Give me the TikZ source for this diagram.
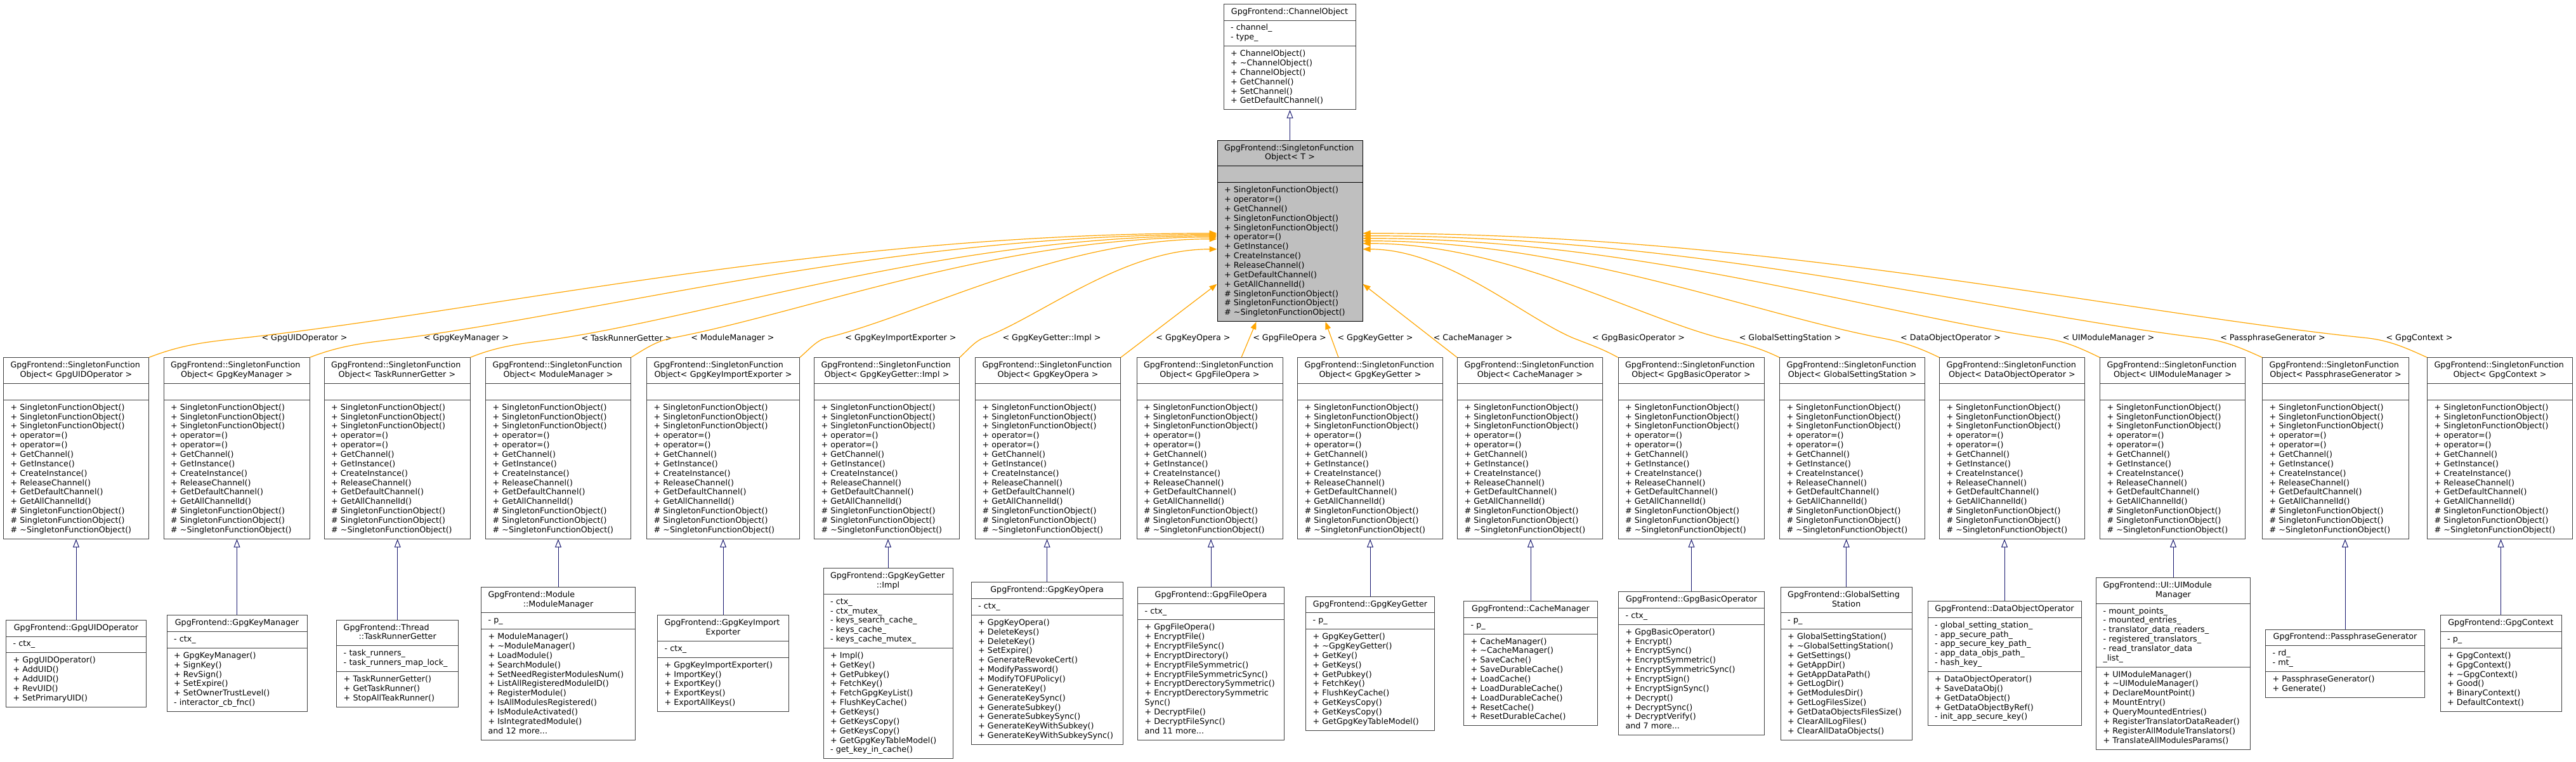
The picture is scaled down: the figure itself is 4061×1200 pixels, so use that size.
\documentclass[tikz,border=0pt]{standalone}
\usepackage{fontspec}
\setmainfont{DejaVu Sans}
\usepackage{tikz}
\usetikzlibrary{shapes.multipart}
\usetikzlibrary{arrows.meta}
\definecolor{navyline}{HTML}{191970}
\definecolor{orangeline}{HTML}{FFA500}
\setlength{\parindent}{0pt}
\setlength{\parskip}{0pt}
\newcommand\umlfont{\fontsize{12.7}{14.85}\selectfont}
\newcommand\umlpart[1]{\umlfont\raggedright\strut#1\strut}
\newcommand\ctrline[1]{\hspace*{\fill}#1\hspace*{\fill}\null}
\newcommand\sfolist{+ SingletonFunctionObject()\\+ SingletonFunctionObject()\\+ SingletonFunctionObject()\\+ operator=()\\+ operator=()\\+ GetChannel()\\+ GetInstance()\\+ CreateInstance()\\+ ReleaseChannel()\\+ GetDefaultChannel()\\+ GetAllChannelId()\\\# SingletonFunctionObject()\\\# SingletonFunctionObject()\\\# \textasciitilde SingletonFunctionObject()}
\begin{document}
\begin{tikzpicture}[x=1pt, y=1pt,
    umlbox/.style={rectangle split, rectangle split parts=3, draw=black!75, line width=1pt, fill=white, inner xsep=11pt, inner ysep=5pt, align=left, font=\umlfont},
    mainbox/.style={umlbox, draw=black, fill=black!25},
    lbl/.style={font=\umlfont, inner sep=0pt},
    inh/.style={draw=navyline, line width=1pt, -{Triangle[open, length=13pt, width=10pt]}},
    inst/.style={draw=orangeline, line width=1.2pt, -{Triangle[length=12pt, width=9pt]}}]
    \useasboundingbox (0,0) rectangle (4061,-1200);

    \node[umlbox, text width=186pt, anchor=north] (c) at (2033,-5.7) {\umlpart{\ctrline{GpgFrontend::ChannelObject}}
        \nodepart{two}\umlpart{- channel\_\\- type\_}
        \nodepart{three}\umlpart{+ ChannelObject()\\+ \textasciitilde ChannelObject()\\+ ChannelObject()\\+ GetChannel()\\+ SetChannel()\\+ GetDefaultChannel()}};
    \node[mainbox, text width=207pt, anchor=north] (s) at (2033.5,-220.7) {\umlpart{GpgFrontend::SingletonFunction\\\ctrline{Object< T >}}
        \nodepart{two}\umlpart{}
        \nodepart{three}\umlpart{+ SingletonFunctionObject()\\+ operator=()\\+ GetChannel()\\+ SingletonFunctionObject()\\+ SingletonFunctionObject()\\+ operator=()\\+ GetInstance()\\+ CreateInstance()\\+ ReleaseChannel()\\+ GetDefaultChannel()\\+ GetAllChannelId()\\\# SingletonFunctionObject()\\\# SingletonFunctionObject()\\\# \textasciitilde SingletonFunctionObject()}};
    \draw[inh] (s.north) -- (s.north |- c.south);

    \foreach \n/\x/\w/\lx/\t in {1/120/207/480/GpgUIDOperator, 2/373/208/735/GpgKeyManager,
        3/626/208/988/TaskRunnerGetter, 4/880/207/1155/ModuleManager,
        5/1140/219/1420/GpgKeyImportExporter, 6/1398/207/1658/GpgKeyGetter::Impl,
        7/1652/207/1881/GpgKeyOpera, 8/1907/208/2033/GpgFileOpera,
        9/2160/207/2168/GpgKeyGetter, 10/2412/207/2322/CacheManager,
        11/2666/208/2583/GpgBasicOperator, 12/2920/207/2822/GlobalSettingStation,
        13/3172/207/3075/DataObjectOperator, 14/3425/207/3324/UIModuleManager,
        15/3682/209/3583/PassphraseGenerator, 16/3941/207/3814/GpgContext} {
        \node[umlbox, text width=\w pt] (m\n) at (\x,-706.5) {\umlpart{GpgFrontend::SingletonFunction\\\ctrline{Object< \t{} >}}
            \nodepart{two}\umlpart{}
            \nodepart{three}\umlpart{\sfolist}};
        \node[lbl] (l\n) at (\lx,-532.7) {< \t{} >};
    }

    \node[umlbox, text width=199pt] (b1) at (120,-1045.7) {\umlpart{\ctrline{GpgFrontend::GpgUIDOperator}}
        \nodepart{two}\umlpart{- ctx\_}
        \nodepart{three}\umlpart{+ GpgUIDOperator()\\+ AddUID()\\+ AddUID()\\+ RevUID()\\+ SetPrimaryUID()}};
    \node[umlbox, text width=199pt] (b2) at (373.5,-1045.7) {\umlpart{\ctrline{GpgFrontend::GpgKeyManager}}
        \nodepart{two}\umlpart{- ctx\_}
        \nodepart{three}\umlpart{+ GpgKeyManager()\\+ SignKey()\\+ RevSign()\\+ SetExpire()\\+ SetOwnerTrustLevel()\\- interactor\_cb\_fnc()}};
    \node[umlbox, text width=170pt] (b3) at (626.7,-1045.7) {\umlpart{GpgFrontend::Thread\\\ctrline{::TaskRunnerGetter}}
        \nodepart{two}\umlpart{- task\_runners\_\\- task\_runners\_map\_lock\_}
        \nodepart{three}\umlpart{+ TaskRunnerGetter()\\+ GetTaskRunner()\\+ StopAllTeakRunner()}};
    \node[umlbox, text width=221pt] (b4) at (880,-1045.7) {\umlpart{GpgFrontend::Module\\\ctrline{::ModuleManager}}
        \nodepart{two}\umlpart{- p\_}
        \nodepart{three}\umlpart{+ ModuleManager()\\+ \textasciitilde ModuleManager()\\+ LoadModule()\\+ SearchModule()\\+ SetNeedRegisterModulesNum()\\+ ListAllRegisteredModuleID()\\+ RegisterModule()\\+ IsAllModulesRegistered()\\+ IsModuleActivated()\\+ IsIntegratedModule()\\and 12 more...}};
    \node[umlbox, text width=185pt] (b5) at (1140,-1045.7) {\umlpart{GpgFrontend::GpgKeyImport\\\ctrline{Exporter}}
        \nodepart{two}\umlpart{- ctx\_}
        \nodepart{three}\umlpart{+ GpgKeyImportExporter()\\+ ImportKey()\\+ ExportKey()\\+ ExportKeys()\\+ ExportAllKeys()}};
    \node[umlbox, text width=182pt] (b6) at (1400,-1045.7) {\umlpart{GpgFrontend::GpgKeyGetter\\\ctrline{::Impl}}
        \nodepart{two}\umlpart{- ctx\_\\- ctx\_mutex\_\\- keys\_search\_cache\_\\- keys\_cache\_\\- keys\_cache\_mutex\_}
        \nodepart{three}\umlpart{+ Impl()\\+ GetKey()\\+ GetPubkey()\\+ FetchKey()\\+ FetchGpgKeyList()\\+ FlushKeyCache()\\+ GetKeys()\\+ GetKeysCopy()\\+ GetKeysCopy()\\+ GetGpgKeyTableModel()\\- get\_key\_in\_cache()}};
    \node[umlbox, text width=217pt] (b7) at (1650.6,-1045.7) {\umlpart{\ctrline{GpgFrontend::GpgKeyOpera}}
        \nodepart{two}\umlpart{- ctx\_}
        \nodepart{three}\umlpart{+ GpgKeyOpera()\\+ DeleteKeys()\\+ DeleteKey()\\+ SetExpire()\\+ GenerateRevokeCert()\\+ ModifyPassword()\\+ ModifyTOFUPolicy()\\+ GenerateKey()\\+ GenerateKeySync()\\+ GenerateSubkey()\\+ GenerateSubkeySync()\\+ GenerateKeyWithSubkey()\\+ GenerateKeyWithSubkeySync()}};
    \node[umlbox, text width=209pt] (b8) at (1909,-1045.7) {\umlpart{\ctrline{GpgFrontend::GpgFileOpera}}
        \nodepart{two}\umlpart{- ctx\_}
        \nodepart{three}\umlpart{+ GpgFileOpera()\\+ EncryptFile()\\+ EncryptFileSync()\\+ EncryptDirectory()\\+ EncryptFileSymmetric()\\+ EncryptFileSymmetricSync()\\+ EncryptDerectorySymmetric()\\+ EncryptDerectorySymmetric\\Sync()\\+ DecryptFile()\\+ DecryptFileSync()\\and 11 more...}};
    \node[umlbox, text width=181pt] (b9) at (2160,-1045.7) {\umlpart{\ctrline{GpgFrontend::GpgKeyGetter}}
        \nodepart{two}\umlpart{- p\_}
        \nodepart{three}\umlpart{+ GpgKeyGetter()\\+ \textasciitilde GpgKeyGetter()\\+ GetKey()\\+ GetKeys()\\+ GetPubkey()\\+ FetchKey()\\+ FlushKeyCache()\\+ GetKeysCopy()\\+ GetKeysCopy()\\+ GetGpgKeyTableModel()}};
    \node[umlbox, text width=189pt] (b10) at (2413,-1045.7) {\umlpart{\ctrline{GpgFrontend::CacheManager}}
        \nodepart{two}\umlpart{- p\_}
        \nodepart{three}\umlpart{+ CacheManager()\\+ \textasciitilde CacheManager()\\+ SaveCache()\\+ SaveDurableCache()\\+ LoadCache()\\+ LoadDurableCache()\\+ LoadDurableCache()\\+ ResetCache()\\+ ResetDurableCache()}};
    \node[umlbox, text width=208pt] (b11) at (2666.5,-1045.7) {\umlpart{\ctrline{GpgFrontend::GpgBasicOperator}}
        \nodepart{two}\umlpart{- ctx\_}
        \nodepart{three}\umlpart{+ GpgBasicOperator()\\+ Encrypt()\\+ EncryptSync()\\+ EncryptSymmetric()\\+ EncryptSymmetricSync()\\+ EncryptSign()\\+ EncryptSignSync()\\+ Decrypt()\\+ DecryptSync()\\+ DecryptVerify()\\and 7 more...}};
    \node[umlbox, text width=185pt] (b12) at (2910.7,-1045.7) {\umlpart{GpgFrontend::GlobalSetting\\\ctrline{Station}}
        \nodepart{two}\umlpart{- p\_}
        \nodepart{three}\umlpart{+ GlobalSettingStation()\\+ \textasciitilde GlobalSettingStation()\\+ GetSettings()\\+ GetAppDir()\\+ GetAppDataPath()\\+ GetLogDir()\\+ GetModulesDir()\\+ GetLogFilesSize()\\+ GetDataObjectsFilesSize()\\+ ClearAllLogFiles()\\+ ClearAllDataObjects()}};
    \node[umlbox, text width=220pt] (b13) at (3160,-1045.7) {\umlpart{\ctrline{GpgFrontend::DataObjectOperator}}
        \nodepart{two}\umlpart{- global\_setting\_station\_\\- app\_secure\_path\_\\- app\_secure\_key\_path\_\\- app\_data\_objs\_path\_\\- hash\_key\_}
        \nodepart{three}\umlpart{+ DataObjectOperator()\\+ SaveDataObj()\\+ GetDataObject()\\+ GetDataObjectByRef()\\- init\_app\_secure\_key()}};
    \node[umlbox, text width=221pt] (b14) at (3426,-1045.7) {\umlpart{GpgFrontend::UI::UIModule\\\ctrline{Manager}}
        \nodepart{two}\umlpart{- mount\_points\_\\- mounted\_entries\_\\- translator\_data\_readers\_\\- registered\_translators\_\\- read\_translator\_data\\\_list\_}
        \nodepart{three}\umlpart{+ UIModuleManager()\\+ \textasciitilde UIModuleManager()\\+ DeclareMountPoint()\\+ MountEntry()\\+ QueryMountedEntries()\\+ RegisterTranslatorDataReader()\\+ RegisterAllModuleTranslators()\\+ TranslateAllModulesParams()}};
    \node[umlbox, text width=229pt] (b15) at (3697,-1045.7) {\umlpart{\ctrline{GpgFrontend::PassphraseGenerator}}
        \nodepart{two}\umlpart{- rd\_\\- mt\_}
        \nodepart{three}\umlpart{+ PassphraseGenerator()\\+ Generate()}};
    \node[umlbox, text width=169pt] (b16) at (3942.5,-1045.7) {\umlpart{\ctrline{GpgFrontend::GpgContext}}
        \nodepart{two}\umlpart{- p\_}
        \nodepart{three}\umlpart{+ GpgContext()\\+ GpgContext()\\+ \textasciitilde GpgContext()\\+ Good()\\+ BinaryContext()\\+ DefaultContext()}};

    \foreach \n in {1,...,16} {
        \draw[inh] (b\n.north) -- (b\n.north |- m\n.south);
    }

    \draw[inst] (m1.north east) .. controls +(54,21) and +(-54,-6) .. ([xshift=-30pt]l1.west) .. controls +(384,42) and +(-615,0) .. ([yshift=-147pt]s.north west);
    \draw[inst] (m2.north east) .. controls +(54,21) and +(-54,-7) .. ([xshift=-30pt]l2.west) .. controls +(320,42) and +(-513,0) .. ([yshift=-149pt]s.north west);
    \draw[inst] (m3.north east) .. controls +(52,21) and +(-52,-8) .. ([xshift=-30pt]l3.west) .. controls +(258,41) and +(-414,0) .. ([yshift=-151pt]s.north west);
    \draw[inst] (m4.north east) .. controls +(24,15) and +(-24,-5) .. ([xshift=-30pt]l4.west) .. controls +(215,41) and +(-345,0) .. ([yshift=-153pt]s.north west);
    \draw[inst] (m5.north east) .. controls +(15,13) and +(-15,-4) .. ([xshift=-30pt]l5.west) .. controls +(155,39) and +(-247,0) .. ([yshift=-156pt]s.north west);
    \draw[inst] (m6.north east) .. controls +(13,12) and +(-13,-5) .. ([xshift=-30pt]l6.west) .. controls +(92,35) and +(-148,0) .. ([yshift=-172pt]s.north west);
    \draw[inst] (m7.north east) -- ([yshift=-227pt]s.north west);
    \draw[inst] ([xshift=50pt]m8.north) -- ([xshift=-53pt]s.south);
    \draw[inst] ([xshift=-50pt]m9.north) -- ([xshift=56pt]s.south);
    \draw[inst] (m10.north west) -- ([yshift=-227pt]s.north east);
    \draw[inst] (m11.north west) .. controls +(-25,14) and +(25,-10) .. ([xshift=-30pt]l11.west) .. controls +(-80,34) and +(132,0) .. ([yshift=-172pt]s.north east);
    \draw[inst] (m12.north west) .. controls +(-33,16) and +(33,-8) .. ([xshift=-30pt]l12.west) .. controls +(-140,37) and +(225,0) .. ([yshift=-163pt]s.north east);
    \draw[inst] (m13.north west) .. controls +(-33,16) and +(33,-6) .. ([xshift=-30pt]l13.west) .. controls +(-204,39) and +(327,0) .. ([yshift=-159pt]s.north east);
    \draw[inst] (m14.north west) .. controls +(-33,16) and +(33,-5) .. ([xshift=-30pt]l14.west) .. controls +(-268,39) and +(428,0) .. ([yshift=-155pt]s.north east);
    \draw[inst] (m15.north west) .. controls +(-35,16) and +(35,-4) .. ([xshift=-30pt]l15.west) .. controls +(-330,40) and +(528,0) .. ([yshift=-151pt]s.north east);
    \draw[inst] (m16.north west) .. controls +(-35,16) and +(35,-4) .. ([xshift=-30pt]l16.west) .. controls +(-395,41) and +(633,0) .. ([yshift=-147pt]s.north east);
\end{tikzpicture}
\end{document}
